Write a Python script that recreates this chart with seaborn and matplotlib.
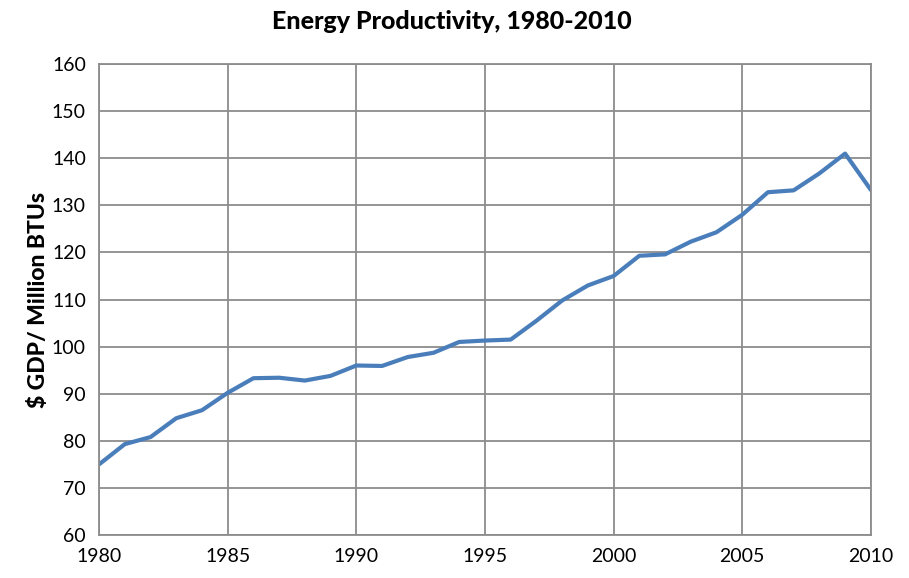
import numpy as np
import pandas as pd
import seaborn as sns
from matplotlib import pyplot as plt

# yearly energy productivity
years = list(range(1980, 2011))
gdp_per_btu = [75.0, 79.3, 80.8, 84.8, 86.5, 90.2, 93.3, 93.4, 92.8, 93.8,
               96.0, 95.9, 97.8, 98.7, 101.0, 101.3, 101.5, 105.5, 109.8, 113.0,
               115.0, 119.3, 119.6, 122.3, 124.3, 128.0, 132.8, 133.2, 136.8, 141.0,
               133.3]
x_ticks = [1980, 1985, 1990, 1995, 2000, 2005, 2010]
y_ticks = [60, 70, 80, 90, 100, 110, 120, 130, 140, 150, 160]

df = pd.DataFrame({"year": years, "value": gdp_per_btu})

sns.set_theme(style="white")
plt.rcParams['font.family'] = ['Lato', 'DejaVu Sans']
plt.rcParams['text.color'] = 'black'

fig, ax = plt.subplots(figsize=(9.09, 5.78), dpi=100)
fig.subplots_adjust(left=0.109, right=0.958, top=0.889, bottom=0.0744)

sns.lineplot(data=df, x="year", y="value", ax=ax, color="#4a7ebb",
             linewidth=3, solid_joinstyle="round", solid_capstyle="round")

ax.set_xlim(1980, 2010)
ax.set_ylim(60, 160)
ax.set_xticks(x_ticks)
ax.set_yticks(y_ticks)
ax.grid(True, color="#8c8c8c", linewidth=1.3)
for s in ax.spines.values():
    s.set_color("#8c8c8c")
    s.set_linewidth(1.3)
ax.tick_params(axis="both", length=6, width=1.3, direction="out",
               labelsize=14, colors="#8c8c8c", labelcolor="black")
ax.set_xlabel("")
ax.set_ylabel("$ GDP/ Million BTUs", fontsize=16.5, fontweight="black",
              color="black", labelpad=2)
# title is centred on the whole figure, not on the axes
fig.text(0.497, 0.962, "Energy Productivity, 1980-2010", fontsize=18,
         fontweight="black", color="black", ha="center", va="center")

plt.savefig("out.png", dpi=100)
